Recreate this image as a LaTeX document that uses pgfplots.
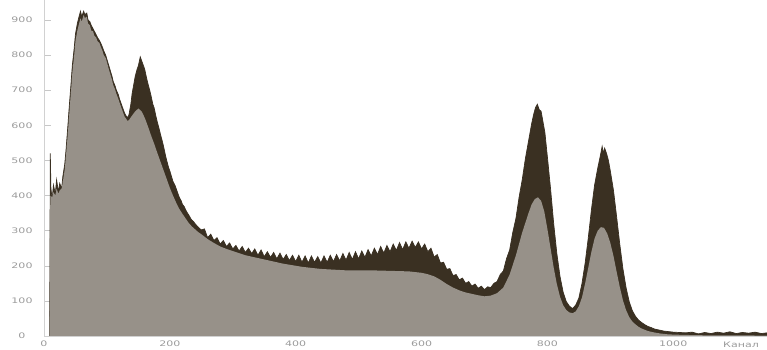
\documentclass[border=0pt]{standalone}
\usepackage{pgfplots}
\pgfplotsset{compat=1.18}
\usepackage{fontspec}
\newfontfamily\tickfont[FakeStretch=1.45]{DejaVu Sans}
\definecolor{darkc}{RGB}{58,48,34}
\definecolor{greyc}{RGB}{151,145,137}
\definecolor{labc}{RGB}{155,155,155}
\begin{document}
\begin{tikzpicture}
\begin{axis}[
  scale only axis, width=723pt, height=336pt,
  xmin=0, xmax=1149, ymin=0, ymax=957,
  axis lines*=left,
  axis line style={draw=black!18, line width=0.5pt},
  xtick={0,200,400,600,800,1000},
  ytick={0,100,200,300,400,500,600,700,800,900},
  tick align=inside,
  major tick length=7pt,
  x tick style={draw=none},
  y tick style={draw=black!22, line width=0.5pt},
  /pgf/number format/assume math mode=true,
  /pgf/number format/1000 sep={},
  tick label style={font=\tickfont\fontsize{7.6}{9}\selectfont, text=labc},
  yticklabel style={anchor=center, xshift=-22pt},
  xticklabel style={anchor=center, yshift=-8pt},
  clip=true,
]
\addplot[fill=darkc, draw=darkc, line width=0.7pt] coordinates {
(9,0) (10,520) (11,420) (13,390) (15,430) (18,405) (20,445) (23,410) (25,435) (28,420) (30,455) (33,490) (35,530) (38,600) (40,650) (43,720) (45,770) (48,820) (50,860) (53,890) (55,905) (58,925) (60,910) (63,925) (65,915) (68,920) (70,900) (73,895) (75,885) (78,875) (80,868) (83,858) (85,850) (88,842) (90,835) (93,822) (95,812) (98,800) (100,788) (103,770) (105,758) (108,740) (110,725) (113,712) (115,700) (118,688) (120,675) (123,660) (125,650) (128,635) (130,628) (133,622) (135,630) (138,660) (140,690) (143,720) (145,740) (148,760) (150,770) (153,795) (155,785) (158,770) (160,760) (163,735) (165,720) (168,700) (170,685) (173,660) (175,650) (178,625) (180,610) (183,590) (185,575) (188,555) (190,540) (193,515) (195,500) (198,480) (200,470) (203,452) (205,440) (208,430) (210,420) (213,405) (215,395) (218,385) (220,375) (223,368) (225,360) (228,350) (230,345) (233,335) (235,330) (238,325) (240,320) (245,310) (250,302)
(255,305) (260,280) (265,290) (270,272) (275,280) (280,262) (285,272) (290,255) (295,265) (300,248) (305,258) (310,242) (315,255) (320,238) (325,250) (330,235) (335,248) (340,230) (345,245) (350,226) (355,240) (360,224) (365,238) (370,220) (375,236) (380,218) (385,232) (390,215) (395,230) (400,212) (405,230) (410,210) (415,228) (420,208) (425,228) (430,210) (435,226) (440,208) (445,228) (450,210) (455,230) (460,212) (465,232) (470,214) (475,235) (480,216) (485,238) (490,218) (495,240) (500,220) (505,242) (510,224) (515,246) (520,228) (525,250) (530,232) (535,255) (540,236) (545,258) (550,240) (555,262) (560,244) (565,266) (570,246) (575,268) (580,250) (585,270) (590,252) (595,268) (600,248) (605,262) (610,240) (615,250) (620,225) (625,232) (630,208) (635,210) (640,190) (645,192) (650,172) (655,175) (660,160) (665,165) (670,150) (675,155) (680,142) (685,148) (690,136) (695,142) (700,132) (705,140) (710,138) (715,150) (720,155) (725,175) (730,185) (735,220) (740,245) (745,295) (750,335) (755,395) (760,445) (765,505) (770,555) (775,605) (778,630) (781,650) (784,660) (787,645) (790,640) (793,610) (796,580) (800,510) (805,420) (810,320) (815,235) (820,170) (825,125) (830,98) (835,85) (840,78) (845,88) (850,108) (855,150) (860,208) (865,280) (870,360) (875,430) (880,478) (884,512) (887,540) (889,520) (891,535) (894,520) (897,500) (900,470) (905,415) (910,340) (915,262) (920,192) (925,138) (930,98) (935,72) (940,56) (945,45) (950,38) (955,32) (960,27) (965,24) (970,20) (975,18) (980,16) (985,14) (990,13) (995,12) (1000,11) (1010,10) (1020,9) (1030,11) (1040,6) (1050,10) (1060,7) (1070,11) (1080,8) (1090,12) (1100,7) (1110,10) (1120,8) (1130,11) (1140,7) (1149,9)
} \closedcycle;
\addplot[fill=greyc, draw=none] coordinates {
(9,0) (10,400) (13,395) (15,410) (18,400) (20,420) (23,405) (25,415) (28,420) (30,440) (33,475) (35,515) (38,580) (40,630) (43,700) (45,750) (48,800) (50,840) (53,870) (55,885) (58,905) (60,895) (63,915) (65,905) (68,910) (70,890) (73,885) (75,870) (78,868) (80,855) (83,850) (85,840) (88,835) (90,825) (93,812) (95,800) (98,792) (100,780) (103,760) (105,748) (108,730) (110,715) (113,702) (115,690) (118,676) (120,665) (123,650) (125,640) (128,625) (130,620) (133,612) (135,615) (140,628) (145,640) (150,648) (155,640) (160,622) (165,598) (170,572) (175,548) (180,522) (185,497) (190,472) (195,447) (200,422) (205,400) (210,380) (215,362) (220,348) (225,335) (230,322) (235,312) (240,304) (245,296) (250,290) (260,276) (270,265) (280,255) (290,248) (300,242) (310,236) (320,230) (330,226) (340,222) (350,218) (360,214) (370,210) (380,206) (390,203) (400,200) (410,197) (420,195) (430,193) (440,191) (450,190) (460,189) (470,188) (480,187) (500,187) (520,187) (540,186) (560,185) (580,184) (590,182) (600,180) (610,176) (620,170) (630,160) (640,148) (650,138) (660,130) (670,124) (680,120) (690,116) (700,113) (710,115) (720,122) (730,138) (740,175) (750,230) (760,295) (770,350) (775,375) (780,390) (785,395) (790,385) (795,355) (800,305) (805,250) (810,195) (815,148) (820,112) (825,88) (830,74) (835,67) (840,65) (845,70) (850,85) (855,110) (860,150) (865,195) (870,240) (875,278) (880,300) (885,310) (890,308) (895,292) (900,265) (905,228) (910,183) (915,140) (920,102) (925,74) (930,54) (935,41) (940,33) (945,26) (950,21) (960,14) (970,10) (980,7) (990,5) (1000,4) (1020,3) (1050,2) (1100,2) (1149,1)
} \closedcycle;
\coordinate (ll) at (rel axis cs:0,0);
\coordinate (ur) at (rel axis cs:1,1);
\end{axis}
\node[font=\tickfont\fontsize{7.6}{9}\selectfont, text=labc, anchor=center] at ([xshift=-26pt,yshift=-8.5pt]ur |- ll) {Канал};
\pgfresetboundingbox
\path[use as bounding box] ([xshift=-44pt,yshift=-14pt]ll) rectangle (ur);
\end{tikzpicture}
\end{document}
